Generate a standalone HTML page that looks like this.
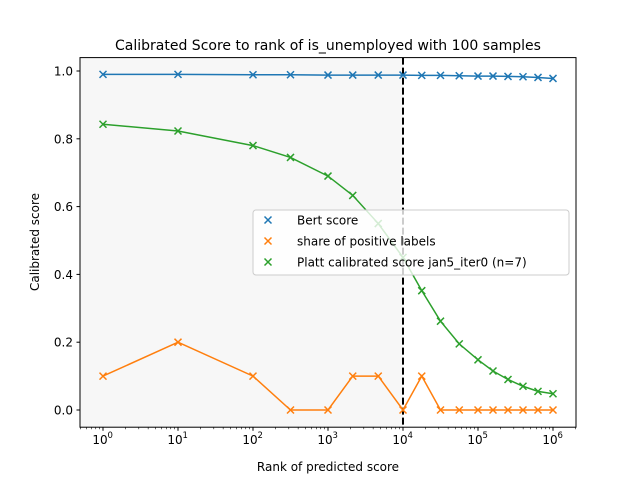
<!DOCTYPE html>
<html><head><meta charset="utf-8"><style>body{margin:0;background:#fff}svg{display:block}text{font-family:"DejaVu Sans","Liberation Sans",sans-serif}</style></head>
<body>
<svg id="chart" width="640" height="480"></svg>
<script>
const logRanks=[0,1,2,2.5,3,3.33,3.67,4,4.25,4.5,4.75,5,5.2,5.4,5.6,5.8,6];
const bertScores=[0.99,0.99,0.989,0.989,0.988,0.988,0.988,0.988,0.987,0.987,0.986,0.985,0.985,0.984,0.983,0.981,0.978];
const positiveShare=[0.1,0.2,0.1,0,0,0.1,0.1,0,0.1,0,0,0,0,0,0,0,0];
const plattScores=[0.843,0.823,0.78,0.745,0.69,0.633,0.55,0.45,0.352,0.262,0.195,0.148,0.115,0.09,0.07,0.055,0.048];
const yTicks=[0,0.2,0.4,0.6,0.8,1.0];
const xTicks=[0,1,2,3,4,5,6];
const cutoffLog=4;
const NS="http://www.w3.org/2000/svg";
const svg=document.getElementById('chart');
const L=80,R=576,T=57.6,B=427.2;
const X=v=>103+(v)*75;
const Y=v=>410-v*339;
function mk(t,a,p){const e=document.createElementNS(NS,t);for(const k in a)e.setAttribute(k,a[k]);(p||svg).appendChild(e);return e;}
const shade=mk('rect',{x:L,y:T,width:X(cutoffLog)-L,height:B-T,fill:'#f7f7f7'});


const cut=mk('line',{x1:X(cutoffLog),x2:X(cutoffLog),y1:T,y2:B,stroke:'#000','stroke-width':2,'stroke-dasharray':'7,3'});


function series(vals,color,name){
  const g=mk('g',{});
  
  
  mk('polyline',{points:vals.map((v,i)=>X(logRanks[i])+','+Y(v)).join(' '),fill:'none',stroke:color,'stroke-width':1.5},g);
  vals.forEach((v,i)=>{const x=X(logRanks[i]),y=Y(v);
    const p=mk('path',{d:`M${x-3.5},${y-3.5}L${x+3.5},${y+3.5}M${x-3.5},${y+3.5}L${x+3.5},${y-3.5}`,stroke:color,'stroke-width':1.5},g);
    
    });
}
series(bertScores,'#1f77b4','bert-score-series');
series(positiveShare,'#ff7f0e','positive-share-series');
series(plattScores,'#2ca02c','platt-score-series');
mk('rect',{x:L,y:T,width:R-L,height:B-T,fill:'none',stroke:'#000','stroke-width':1});
yTicks.forEach(v=>{const y=Y(v);mk('line',{x1:L-3.5,x2:L,y1:y,y2:y,stroke:'#000'});
  const t=mk('text',{x:L-7,y:y+4.5,'text-anchor':'end','font-size':12});t.textContent=v.toFixed(1);
  
  });
for(let d=-1;d<=6;d++)for(let m=2;m<10;m++){const lx=d+Math.log10(m);const x=X(lx);if(x>L&&x<R)mk('line',{x1:x,x2:x,y1:B,y2:B+2,stroke:'#000','stroke-width':0.6});}
xTicks.forEach(v=>{const x=X(v);mk('line',{x1:x,x2:x,y1:B,y2:B+3.5,stroke:'#000'});
  const t=mk('text',{x:x-3,y:B+17,'text-anchor':'middle','font-size':12});t.textContent='10';
  
  
  const s=mk('text',{x:x+4.5,y:B+11,'font-size':8.5});s.textContent=String(v);});
const lbls=[['Calibrated Score to rank of is_unemployed with 100 samples',328,50,'14','chart-title',0],['Rank of predicted score',328,471,'12','x-axis-title',0],['Calibrated score',39,242,'12','y-axis-title',1]];
lbls.forEach(([s,x,y,fs,n,r])=>{const t=mk('text',{x,y,'text-anchor':'middle','font-size':fs});if(r)t.setAttribute('transform',`rotate(-90 ${x} ${y})`);t.textContent=s;
  
  });
const lg=mk('g',{});


mk('rect',{x:253,y:210,width:316,height:65,rx:3,fill:'#fff','fill-opacity':0.8,stroke:'#ccc'},lg);
[['Bert score','#1f77b4'],['share of positive labels','#ff7f0e'],['Platt calibrated score jan5_iter0 (n=7)','#2ca02c']].forEach(([s,c],i)=>{
  const y=220+i*21,x=268;
  mk('path',{d:`M${x-3.5},${y-3.5}L${x+3.5},${y+3.5}M${x-3.5},${y+3.5}L${x+3.5},${y-3.5}`,stroke:c,'stroke-width':1.5},lg);
  const t=mk('text',{x:297,y:y+4.5,'font-size':12},lg);t.textContent=s;
  
  });
</script>
</body></html>
